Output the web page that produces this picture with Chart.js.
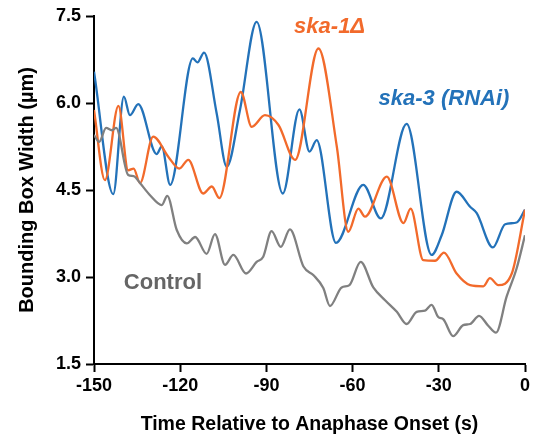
<!DOCTYPE html>
<html>
<head>
<meta charset="utf-8">
<script src="https://cdn.jsdelivr.net/npm/chart.js@4/dist/chart.umd.min.js"></script>
<style>
  html, body { margin: 0; padding: 0; background: #fff; }
  #wrap { width: 538px; height: 442px; }
</style>
</head>
<body>
<div id="wrap"><canvas id="chart"></canvas></div>
<script>
// time (s) and bounding box width (um)
var ska3Time = [-150, -143.3, -139.6, -137.5, -134.6, -128.2, -126.4, -123.5, -115.6, -114.0, -111.7, -107.3, -103.8, -99.2, -93.4,
    -84.3, -78.5, -75.0, -72.5, -65.8, -56.3, -50.2, -41.2, -32.5, -29.0, -23.8, -19.1, -16.8, -11.2, -6.9, -2.9, 0];
var ska3Width = [6.54, 4.43, 6.11, 5.79, 5.98, 5.12, 5.25, 4.59, 6.77, 6.70, 6.87, 5.82, 4.90, 5.88, 7.40,
    4.44, 5.89, 5.16, 5.36, 3.59, 4.59, 4.01, 5.64, 3.38, 3.72, 4.47, 4.21, 4.10, 3.51, 3.91, 3.94, 4.16];

var ska1Time = [-150, -146.2, -141.5, -138.1, -136.2, -134.0, -129.4, -124.1, -120.3, -117.2, -112.0, -109.0, -106.4, -98.9,
    -95.1, -90.5, -85.8, -80.0, -71.9, -65.5, -61.5, -58.0, -55.7, -48.1, -42.3, -39.8, -35.4, -31.3, -28.2, -23.8,
    -19.1, -14.5, -12.2, -9.3, -4.6, 0];
var ska1Width = [5.88, 4.67, 5.95, 4.84, 4.87, 4.62, 5.42, 5.07, 4.87, 5.02, 4.44, 4.56, 4.36, 6.19,
    5.59, 5.79, 5.62, 5.02, 6.94, 5.25, 3.78, 4.18, 4.04, 4.73, 3.93, 4.18, 3.29, 3.28, 3.42, 3.06,
    2.86, 2.84, 2.98, 2.86, 3.06, 4.16];

var controlTime = [-150, -148.2, -145.8, -143.8, -142.3, -138.1, -136.2, -134.0, -130.5, -126.4, -124.5, -121.2, -117.7, -114.8,
    -110.8, -107.9, -104.4, -101.5, -97.1, -93.4, -91.1, -88.2, -85.0, -81.8, -77.1, -73.6, -70.2, -67.9, -63.8,
    -61.1, -57.2, -52.8, -48.7, -44.6, -41.2, -37.7, -34.8, -32.5, -30.2, -28.4, -25.0, -21.5, -19.1, -16.0,
    -12.8, -10.1, -6.4, -2.9, 0];
var controlWidth = [5.45, 5.33, 5.57, 5.53, 5.57, 4.76, 4.74, 4.62, 4.41, 4.24, 4.40, 3.81, 3.58, 3.69,
    3.40, 3.74, 3.21, 3.38, 3.06, 3.26, 3.35, 3.79, 3.52, 3.82, 3.18, 3.03, 2.81, 2.50, 2.82,
    2.86, 3.26, 2.82, 2.60, 2.40, 2.19, 2.40, 2.42, 2.52, 2.31, 2.27, 1.98, 2.17, 2.19, 2.33,
    2.16, 2.04, 2.66, 3.15, 3.72];

var xTicks = [-150, -120, -90, -60, -30, 0];
var yTicks = [1.5, 3.0, 4.5, 6.0, 7.5];

// in-chart series labels (data coordinates)
var seriesLabels = [
    { text: "ska-1\u0394", x: -68.0, y: 7.32, color: "#F26A2B", italic: true },
    { text: "ska-3 (RNAi)", x: -28.2, y: 6.07, color: "#2372B9", italic: true },
    { text: "Control", x: -126.0, y: 2.90, color: "#666666", italic: false }
];

var blue = "#2372B9";
var orange = "#F26A2B";
var gray = "#808080";
var sans = '"Liberation Sans", Arial, sans-serif';

function toPoints(t, v) {
    var pts = [];
    for (var i = 0; i < t.length; i++) {
        pts.push({ x: t[i], y: v[i] });
    }
    return pts;
}

function series(label, t, v, color) {
    return {
        label: label,
        data: toPoints(t, v),
        borderColor: color,
        borderWidth: 2.3,
        pointRadius: 0,
        fill: false,
        cubicInterpolationMode: 'monotone'
    };
}

const labelPlugin = {
    id: 'seriesLabels',
    afterDatasetsDraw(chart) {
        const ctx = chart.ctx;
        const xs = chart.scales.x, ys = chart.scales.y;
        ctx.save();
        ctx.textAlign = 'center';
        ctx.textBaseline = 'middle';
        seriesLabels.forEach(l => {
            ctx.font = (l.italic ? 'italic ' : '') + 'bold 22px ' + sans;
            ctx.fillStyle = l.color;
            ctx.fillText(l.text, xs.getPixelForValue(l.x), ys.getPixelForValue(l.y));
        });
        ctx.restore();
    }
};

const ctx = document.getElementById("chart").getContext("2d");

var config = {
    type: 'line',
    data: {
        datasets: [
            series("Control", controlTime, controlWidth, gray),
            series("ska-1\u0394", ska1Time, ska1Width, orange),
            series("ska-3 (RNAi)", ska3Time, ska3Width, blue)
        ]
    },
    options: {
        responsive: true,
        maintainAspectRatio: false,
        animation: false,
        layout: { padding: { top: 16, right: 13, left: 0, bottom: 0 } },
        plugins: { legend: { display: false }, tooltip: { enabled: false } },
        scales: {
            x: {
                type: 'linear',
                min: -150,
                max: 0,
                afterBuildTicks: s => { s.ticks = xTicks.map(v => ({ value: v })); },
                afterFit: s => { s.height = 78; },
                border: { display: true, color: '#000', width: 2 },
                grid: { drawOnChartArea: false, drawTicks: true, tickLength: 8, tickWidth: 2, color: '#000' },
                ticks: { color: '#000', padding: 3, maxRotation: 0, font: { family: sans, weight: 'bold', size: 18 } },
                title: { display: true, text: 'Time Relative to Anaphase Onset (s)', color: '#000',
                    padding: { top: 0, bottom: 6 }, font: { family: sans, weight: 'bold', size: 19.5 } }
            },
            y: {
                min: 1.5,
                max: 7.5,
                afterBuildTicks: s => { s.ticks = yTicks.map(v => ({ value: v })); },
                afterFit: s => { s.width = 94; },
                border: { display: true, color: '#000', width: 2 },
                grid: { drawOnChartArea: false, drawTicks: true, tickLength: 8, tickWidth: 2, color: '#000' },
                ticks: { color: '#000', padding: 5, callback: v => v.toFixed(1), font: { family: sans, weight: 'bold', size: 18 } },
                title: { display: true, text: 'Bounding Box Width (\u00b5m)', color: '#000',
                    padding: { top: 15, bottom: 0 }, font: { family: sans, weight: 'bold', size: 20 } }
            }
        }
    },
    plugins: [labelPlugin]
};

new Chart(ctx, config);
</script>
</body>
</html>
